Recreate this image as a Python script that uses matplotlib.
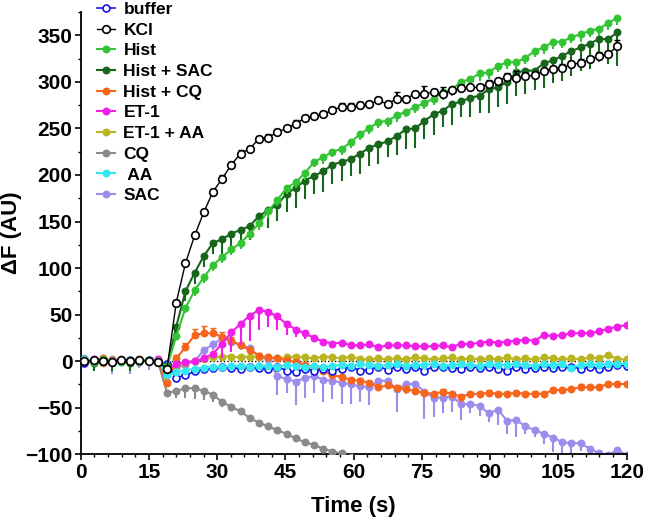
import numpy as np
import matplotlib
matplotlib.use("Agg")
import matplotlib.pyplot as plt
from matplotlib.ticker import MultipleLocator

plt.rcParams["font.family"] = ["Liberation Sans", "DejaVu Sans"]
plt.rcParams["font.weight"] = "bold"

# ---------------* time base (one frame ~ every 2 s) *----------------------
n_frames = 60
times = 0.8 + 2.02 * np.arange(n_frames)

# ---------------* mean traces *-------------------------------------------
buffer_vals = [-2, 0, 1, -1, 0, 1, 0, 1, -1,
               -3, -18, -15, -11, -8, -7, -6, -7, -8, -6, -7, -8, -6, -10, -12, -8, -10, -8, -10,
               -8, -6, -10, -9, -6, -9, -6, -8, -6, -10, -6, -6, -7, -8, -6, -7, -6, -8, -10, -6,
               -8, -7, -6, -7, -6, -6, -8, -6, -8, -6, -4, -5]
kcl_vals = [0, 1, 0, -1, 1, 0, 1, 0, -1,
            -8, 63, 105, 135, 160, 182, 196, 211, 223, 228, 239, 240, 246, 250, 255, 261, 263, 265, 270, 273,
            273, 275, 276, 280, 276, 282, 282, 287, 287, 289, 287, 291, 293, 294, 294, 298, 301, 305, 304, 306,
            307, 312, 314, 315, 319, 320, 324, 328, 330, 338]
hist_vals = [1, -1, 2, 0, -1, 1, 0, 1, 0,
             -6, 27, 57, 76, 90, 103, 112, 120, 127, 137, 148, 161, 173, 186, 192, 202, 214, 219,
             225, 228, 235, 244, 250, 257, 258, 264, 268, 273, 277, 282, 289, 292, 300, 303, 309, 310,
             317, 321, 321, 326, 333, 337, 343, 343, 348, 351, 355, 357, 363, 369]
hist_sac_vals = [0, -2, 1, -1, 0, -2, 0, 1, -1,
                 -5, 37, 75, 95, 113, 127, 131, 137, 141, 145, 156, 162, 168, 180, 186, 194, 199, 204,
                 211, 214, 217, 223, 229, 233, 236, 242, 249, 250, 258, 265, 269, 276, 279, 283, 285, 292,
                 294, 300, 310, 312, 312, 320, 323, 328, 333, 337, 341, 346, 346, 353]
hist_cq_vals = [1, 0, 3, 0, 1, -1, 2, 0, 1,
                -23, 3, 15, 28, 30, 30, 26, 22, 17, 12, 6, 4, 3, 1, -1, -4, -6, -10, -15,
                -17, -20, -21, -23, -28, -26, -29, -30, -32, -34, -35, -33, -35, -38, -35, -35, -34, -35,
                -35, -34, -35, -35, -35, -31, -31, -30, -28, -28, -28, -24, -25, -24]
et1_vals = [0, 2, -1, 1, 0, -1, 1, 0, 2,
            -8, -3, -1, 0, 3, 8, 19, 31, 40, 49, 55, 53, 48, 40, 34, 30, 25, 21, 19,
            20, 17, 17, 18, 15, 17, 17, 17, 16, 16, 16, 17, 15, 19, 18, 20, 21, 20, 21, 22,
            23, 22, 28, 27, 28, 30, 30, 30, 32, 35, 37, 39]
et1_aa_vals = [0, 1, -2, 2, 0, 1, -1, 0, 1,
               -9, -5, -2, 0, 2, 4, 5, 5, 4, 5, 5, 4, 3, 4, 5, 4, 3, 5, 4,
               3, 5, 2, 2, 3, 2, 3, 2, 4, 3, 2, 3, 4, 2, 3, 2, 3, 2, 4, 2,
               3, 2, 4, 3, 2, 3, 2, 4, 3, 7, 2, 2]
cq_vals = [0, 1, -1, 0, 2, 0, -1, 1, 0,
           -34, -32, -29, -29, -32, -36, -44, -49, -54, -61, -66, -70, -74, -78, -83, -87, -90, -94, -97, -99,
           -103, -106]
aa_vals = [2, 0, 1, 0, -1, 1, 0, 1, 0,
           -15, -12, -10, -8, -7, -6, -6, -5, -5, -6, -5, -5, -6, -4, -5, -6, -5, -6, -5,
           -4, -5, -3, -4, -5, -4, -3, -5, -4, -4, -3, -5, -4, -3, -4, -5, -3, -4, -4, -3,
           -4, -5, -3, -4, -3, -7, -4, -3, -4, -3, -3, -3]
sac_vals = [3, 0, 2, -2, 1, 0, -1, 1, 0,
            -10, -7, -4, 0, 12, 18, 25, 21, 17, 14, 5, 2, -16, -19, -22, -18, -16, -20, -21,
            -23, -25, -27, -28, -21, -21, -30, -25, -24, -33, -39, -39, -38, -46, -46, -48, -56, -52,
            -64, -63, -70, -74, -78, -82, -87, -88, -88, -94, -99, -101, -95, -101]

# ---------------* SEM bars (one-sided, as in the figure) *----------------------
kcl_err = [1, 1, 1, 1, 1, 1, 1, 1, 1,
           1, 3, 4, 4, 3, 3, 4, 3, 4, 3, 3, 4, 3, 3, 4, 3, 3, 4, 3, 4,
           4, 3, 3, 4, 3, 7, 3, 3, 8, 3, 7, 3, 4, 3, 3, 4, 3, 4, 8, 3,
           4, 3, 3, 4, 3, 4, 3, 4, 3, 7]
hist_err = [2, 3, 2, 2, 3, 2, 2, 2, 2,
            2, 4, 5, 6, 6, 6, 7, 6, 7, 6, 7, 7, 6, 7, 6, 7, 6, 7,
            6, 7, 6, 7, 6, 7, 6, 7, 6, 7, 6, 7, 8, 7, 6, 7, 8, 7, 6, 7,
            8, 7, 6, 7, 8, 7, 6, 8, 7, 8, 7, 8]
hist_sac_err = [3, 8, 4, 10, 5, 8, 4, 6, 3,
                3, 8, 10, 12, 12, 12, 16, 17, 16, 15, 14, 19, 17, 20, 22, 20, 20, 22,
                21, 20, 18, 22, 19, 21, 17, 21, 21, 21, 19, 22, 18, 22, 17, 21, 18, 25, 21, 24,
                25, 25, 21, 27, 24, 27, 27, 25, 27, 25, 27, 36]
hist_cq_err = [2, 2, 3, 2, 2, 3, 2, 2, 2,
               3, 4, 5, 7, 8, 6, 5, 4, 3, 3, 3, 2, 2, 2, 2, 2, 2, 2, 2,
               2, 2, 3, 2, 2, 2, 3, 2, 2, 2, 2, 3, 2, 2, 2, 2, 3, 2, 2, 2,
               2, 3, 2, 2, 2, 2, 3, 2, 2, 2, 2, 2]
et1_err = [2, 3, 2, 2, 3, 2, 2, 3, 2,
           2, 2, 2, 3, 4, 5, 16, 21, 23, 27, 22, 16, 15, 12, 8, 6, 4, 3, 3,
           3, 2, 3, 2, 3, 2, 2, 3, 2, 3, 2, 3, 2, 2, 3, 2, 3, 2, 2, 3,
           2, 3, 2, 3, 2, 2, 3, 2, 3, 2, 3, 2]
cq_err = [2, 2, 3, 2, 2, 3, 2, 2, 2,
          2, 8, 10, 12, 10, 8, 5, 5, 4, 4, 4, 3, 4, 3, 4, 3, 3, 4, 3, 3,
          3, 3]
sac_err = [4, 8, 3, 12, 5, 14, 6, 10, 3,
           3, 5, 8, 10, 8, 6, 5, 6, 5, 6, 8, 10, 20, 15, 25, 22, 18, 24, 20,
           23, 21, 17, 19, 5, 8, 25, 10, 12, 29, 21, 17, 17, 17, 10, 11, 9, 16, 14, 18,
           8, 7, 11, 15, 16, 13, 8, 10, 6, 6, 5, 5]


# -----------------* trace plotter *-----------------------
def trace(ax, vals, err, color, label, up=False, hollow=False, ms=4.5, lw=1.5, z=2):
    t = times[:len(vals)]
    v = np.array(vals, dtype=float)
    if err is not None:
        e = np.array(err, dtype=float)
        zero = np.zeros_like(e)
        yerr = [zero, e] if up else [e, zero]
        ax.errorbar(t, v, yerr=yerr, fmt="none", ecolor=color, elinewidth=1.5,
                    capsize=2 if up else 0, capthick=1, zorder=z)
    ax.plot(t, v, "-o", color=color, lw=lw, ms=ms, mec=color, mew=1.2,
            mfc="white" if hollow else color, label=label, zorder=z + 0.5)


fig = plt.figure(figsize=(6.46, 5.20), dpi=100)
ax = fig.add_axes([0.1249, 0.1263, 0.8452, 0.8507])

ax.axhline(0, color="black", lw=1, ls=(0, (1, 1.5)), zorder=1)

trace(ax, buffer_vals, None, "#1414e6", "buffer", hollow=True, ms=5, lw=1.2, z=7)
trace(ax, kcl_vals, kcl_err, "black", "KCl", up=True, hollow=True, ms=5.5, lw=1.0, z=11)
trace(ax, hist_vals, hist_err, "#33c433", "Hist", z=10)
trace(ax, hist_sac_vals, hist_sac_err, "#17661c", "Hist + SAC", z=9)
trace(ax, hist_cq_vals, hist_cq_err, "#f7641c", "Hist + CQ", up=True, z=5)
trace(ax, et1_vals, et1_err, "#f01ee6", "ET-1", z=6)
trace(ax, et1_aa_vals, None, "#b8b520", "ET-1 + AA", z=4)
trace(ax, cq_vals, cq_err, "#8a8a8a", "CQ", z=3)
trace(ax, aa_vals, None, "#33e8f0", " AA", z=8)
trace(ax, sac_vals, sac_err, "#9e8ced", "SAC", z=2)

ax.set_xlim(0, 120)
ax.set_ylim(-100, 375)
ax.xaxis.set_major_locator(MultipleLocator(15))
ax.xaxis.set_minor_locator(MultipleLocator(3))
ax.yaxis.set_major_locator(MultipleLocator(50))
ax.yaxis.set_minor_locator(MultipleLocator(25))
ax.set_yticks(np.arange(-100, 351, 50))

for side in ["top", "right"]:
    ax.spines[side].set_visible(False)
for side in ["left", "bottom"]:
    ax.spines[side].set_linewidth(1.3)

ax.tick_params(which="major", direction="out", length=4, width=1.2, labelsize=15, pad=2)
ax.tick_params(which="minor", direction="out", length=2.5, width=1.0)
ax.set_xlabel("Time (s)", fontsize=16, fontweight="bold", labelpad=10)
ax.set_ylabel("ΔF (AU)", fontsize=16, fontweight="bold", labelpad=2)

leg = ax.legend(loc="upper left", bbox_to_anchor=(0.148, 1.0), bbox_transform=fig.transFigure,
                frameon=False, fontsize=12.5, handlelength=1.0, handletextpad=0.5,
                labelspacing=0.32, borderaxespad=0, borderpad=0.1)
for txt in leg.get_texts():
    txt.set_fontweight("bold")

fig.savefig("out.png", dpi=100)
